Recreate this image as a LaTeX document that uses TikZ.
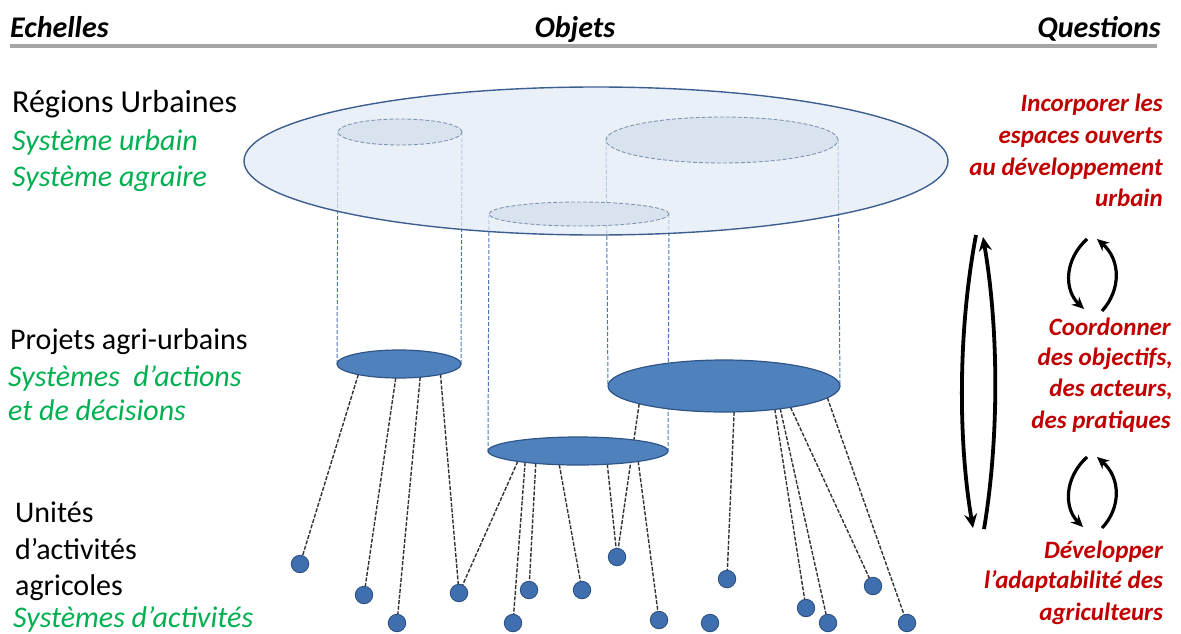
\documentclass[tikz,border=0pt]{standalone}
\usepackage{fontspec}
\setmainfont{Carlito}
\usetikzlibrary{arrows.meta,calc,shapes.geometric}
\definecolor{vert}{HTML}{00B050}
\definecolor{rouge}{HTML}{C00000}
\definecolor{bigfill}{HTML}{E2EAF5}
\definecolor{bigdraw}{HTML}{3D5F8F}
\definecolor{topfill}{HTML}{D9E3F0}
\definecolor{topdraw}{HTML}{8094B0}
\definecolor{botfill}{HTML}{4F81BD}
\definecolor{botdraw}{HTML}{2F5487}
\definecolor{dotfill}{HTML}{3F6FAE}
\definecolor{dotdraw}{HTML}{2A4D7E}
\definecolor{cylcol}{HTML}{4A76B8}
\definecolor{rule}{HTML}{A5A5A5}
\pgfdeclarelayer{cyllayer}
\pgfdeclarelayer{disclayer}
\pgfdeclarelayer{linklayer}
\pgfsetlayers{cyllayer,disclayer,linklayer,main}
\begin{document}
\begin{tikzpicture}[x=1pt,y=-1pt,
  hdr/.style={font=\fontsize{30}{30}\selectfont\bfseries\itshape, inner sep=0, anchor=base},
  lbl/.style={font=\fontsize{30}{30}\selectfont, inner sep=0, anchor=base west},
  sys/.style={lbl, text=vert, font=\fontsize{30}{30}\selectfont\itshape},
  qtxt/.style={font=\fontsize{25}{25}\selectfont\bfseries\itshape, text=rouge, inner sep=0, anchor=base east},
  bigdisc/.style={ellipse, draw=bigdraw, fill=bigfill, fill opacity=0.72, line width=1.4pt, inner sep=0, outer sep=0},
  topdisc/.style={ellipse, draw=topdraw, fill=topfill, dash pattern=on 4pt off 2pt, line width=0.9pt, inner sep=0, outer sep=0},
  botdisc/.style={ellipse, draw=botdraw, fill=botfill, line width=1.2pt, inner sep=0, outer sep=0},
  unit/.style={circle, minimum size=17.5pt, inner sep=0, outer sep=0, fill=dotfill, draw=dotdraw, line width=0.8pt},
  cyl/.style={draw=cylcol, dash pattern=on 4pt off 2pt, line width=1pt},
  link/.style={draw=black!80, dash pattern=on 4pt off 1.6pt, line width=1.4pt},
  bigarrow/.style={line width=3.8pt, -{Stealth[length=14pt,width=13pt]}},
  smallarrow/.style={line width=3.2pt, -{Stealth[length=12pt,width=11pt]}}
]
\useasboundingbox (0,0) rectangle (1181,634);

% headers
\node[hdr, anchor=base west] (hE) at (10,38) {Echelles};
\node[hdr] (hO) at (575,38) {Objets};
\node[hdr, anchor=base east] (hQ) at (1161,38) {Questions};
\coordinate (r1) at (10,46);
\coordinate (r2) at (1157,46);
\draw[rule, line width=4.5pt] (r1) -- (r2);

% left column
\node[lbl, font=\fontsize{32}{32}\selectfont] (l1) at (12,113) {Régions Urbaines};
\node[sys] (l2) at (12,150) {Système urbain};
\node[sys] (l3) at (12,186) {Système agraire};
\node[lbl] (l4) at (10,349) {Projets agri-urbains};
\node[sys] (l5) at (8,386) {Systèmes\ \ d’actions};
\node[sys] (l6) at (8,420) {et de décisions};
\node[lbl] (l7) at (15,522) {Unités};
\node[lbl] (l8) at (15,559) {d’activités};
\node[lbl] (l9) at (15,595) {agricoles};
\node[sys] (l10) at (13,627) {Systèmes d’activités};

% right column
\node[qtxt] (q1) at (1163,111) {Incorporer les};
\node[qtxt] (q2) at (1163,143) {espaces ouverts};
\node[qtxt] (q3) at (1163,175) {au développement};
\node[qtxt] (q4) at (1163,206) {urbain};
\node[qtxt] (q5) at (1171,335) {Coordonner};
\node[qtxt] (q6) at (1173,365) {des objectifs,};
\node[qtxt] (q7) at (1173,396) {des acteurs,};
\node[qtxt] (q8) at (1171,428) {des pratiques};
\node[qtxt] (q9) at (1163,558) {Développer};
\node[qtxt] (q10) at (1163,588) {l’adaptabilité des};
\node[qtxt] (q11) at (1163,620) {agriculteurs};

% discs
\begin{pgfonlayer}{disclayer}
\node[bigdisc, minimum width=704pt, minimum height=148pt] (BIG) at (596,161) {};
\node[topdisc, minimum width=124pt, minimum height=26pt] (E1) at (400,132) {};
\node[topdisc, minimum width=232pt, minimum height=46pt] (E2) at (722,140) {};
\node[topdisc, minimum width=180pt, minimum height=24pt] (E3) at (579,214) {};
\end{pgfonlayer}

\node[botdisc, minimum width=124pt, minimum height=28pt] (B1) at (399,364) {};
\node[botdisc, minimum width=180pt, minimum height=28pt] (B3) at (578,451) {};
\node[botdisc, minimum width=232pt, minimum height=52pt] (B2) at (724,386) {};

% units
\node[unit] (d1) at (300,564) {};
\node[unit] (d2) at (364,595) {};
\node[unit] (d3) at (397,623) {};
\node[unit] (d4) at (459,593) {};
\node[unit] (d5) at (529,590) {};
\node[unit] (d6) at (513,623) {};
\node[unit] (d7) at (582,590) {};
\node[unit] (d8) at (617,557) {};
\node[unit] (d9) at (659,620) {};
\node[unit] (d10) at (710,623) {};
\node[unit] (d11) at (727,579) {};
\node[unit] (d12) at (806,608) {};
\node[unit] (d13) at (828,623) {};
\node[unit] (d14) at (873,586) {};
\node[unit] (d15) at (907,623) {};

% cylinder lines
\begin{pgfonlayer}{cyllayer}
\draw[cyl] (E1.west) -- (B1.west);
\draw[cyl] (E1.east) -- (B1.east);
\draw[cyl] (E2.west) -- (B2.west);
\draw[cyl] (E2.east) -- (B2.east);
\draw[cyl] (E3.west) -- (B3.west);
\draw[cyl] (E3.east) -- (B3.east);
\end{pgfonlayer}

% links
\begin{pgfonlayer}{linklayer}
\draw[link] ($(B1)+(229:62pt and 14pt)$) -- (d1);
\draw[link] ($(B1)+(267:62pt and 14pt)$) -- (d2);
\draw[link] ($(B1)+(290:62pt and 14pt)$) -- (d3);
\draw[link] ($(B1)+(312:62pt and 14pt)$) -- (d4);
\draw[link] ($(B3)+(228:90pt and 14pt)$) -- (d4);
\draw[link] ($(B3)+(234:90pt and 14pt)$) -- (d6);
\draw[link] ($(B3)+(242:90pt and 14pt)$) -- (d5);
\draw[link] ($(B3)+(258:90pt and 14pt)$) -- (d7);
\draw[link] ($(B3)+(289:90pt and 14pt)$) -- (d8);
\draw[link] ($(B3)+(312:90pt and 14pt)$) -- (d9);
\draw[link] ($(B2)+(223:116pt and 26pt)$) -- (d8);
\draw[link] ($(B2)+(275:116pt and 26pt)$) -- (d11);
\draw[link] ($(B2)+(296:116pt and 26pt)$) -- (d12);
\draw[link] ($(B2)+(299:116pt and 26pt)$) -- (d13);
\draw[link] ($(B2)+(305:116pt and 26pt)$) -- (d14);
\draw[link] ($(B2)+(333:116pt and 26pt)$) -- (d15);
\end{pgfonlayer}

% arrows
\coordinate (a1s) at (976,235);
\coordinate (a1e) at (973,528);
\coordinate (a2s) at (984,529);
\coordinate (a2e) at (983,237);
\draw[bigarrow] (a1s) .. controls (958,330) and (958,440) .. (a1e);
\draw[bigarrow] (a2s) .. controls (999,440) and (999,330) .. (a2e);

\coordinate (b1s) at (1087,239);
\coordinate (b1e) at (1084,309);
\coordinate (b2s) at (1102,311);
\coordinate (b2e) at (1097,239);
\draw[smallarrow] (b1s) .. controls (1064,260) and (1064,290) .. (b1e);
\draw[smallarrow] (b2s) .. controls (1121,290) and (1121,260) .. (b2e);

\coordinate (c1s) at (1087,457);
\coordinate (c1e) at (1083,527);
\coordinate (c2s) at (1102,528);
\coordinate (c2e) at (1097,457);
\draw[smallarrow] (c1s) .. controls (1064,478) and (1064,508) .. (c1e);
\draw[smallarrow] (c2s) .. controls (1121,508) and (1121,478) .. (c2e);
\end{tikzpicture}
\end{document}
